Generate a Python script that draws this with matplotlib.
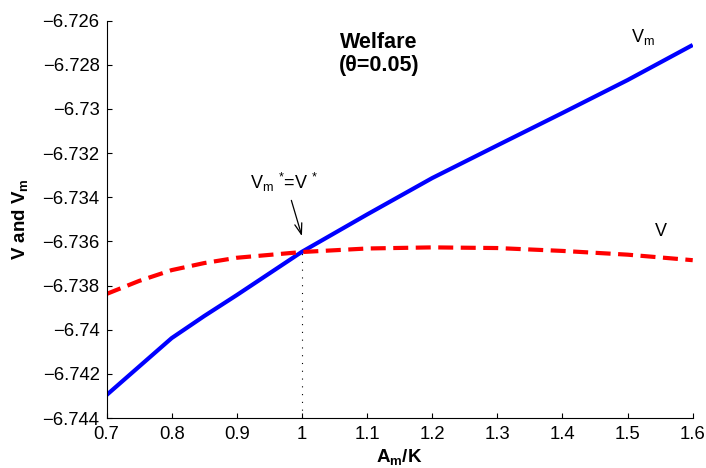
import matplotlib
matplotlib.use("Agg")
import matplotlib.pyplot as plt
from matplotlib.ticker import FuncFormatter

plt.rcParams['font.family'] = ['Liberation Sans', 'DejaVu Sans']
plt.rcParams['mathtext.fontset'] = 'custom'
plt.rcParams['mathtext.rm'] = 'Liberation Sans'
plt.rcParams['mathtext.it'] = 'Liberation Sans'
plt.rcParams['mathtext.bf'] = 'Liberation Sans:bold'

# Data
am_k_vm = [0.7, 0.8, 0.85, 0.9, 1.0, 1.1, 1.2, 1.3, 1.4, 1.5, 1.6]
v_m = [-6.74296, -6.74038, -6.73938, -6.73843, -6.73647, -6.73478, -6.73313,
       -6.73165, -6.73018, -6.72869, -6.72710]
am_k_v = [0.7, 0.75, 0.8, 0.85, 0.9, 1.0, 1.1, 1.2, 1.3, 1.4, 1.5, 1.6]
v = [-6.73838, -6.73779, -6.73730, -6.73698, -6.73674, -6.73648, -6.73632,
     -6.73627, -6.73630, -6.73643, -6.73660, -6.73685]
x_ticks = [0.7, 0.8, 0.9, 1.0, 1.1, 1.2, 1.3, 1.4, 1.5, 1.6]
y_ticks = [-6.744, -6.742, -6.740, -6.738, -6.736, -6.734, -6.732, -6.730, -6.728, -6.726]
cross_x = 1.0
cross_y = -6.73647

fig = plt.figure(figsize=(7.06, 4.68), dpi=100)
ax = fig.add_axes([0.1509, 0.1068, 0.9812 - 0.1509, 0.9558 - 0.1068])

ax.plot(am_k_vm, v_m, color=(0, 0, 1), lw=3.0, solid_capstyle='butt')
ax.plot(am_k_v, v, color=(1, 0, 0), lw=3.0, linestyle=(0, (3.6, 1.8)))
ax.plot([cross_x, cross_x], [y_ticks[0], cross_y], color='black', lw=0.8,
        linestyle=(0, (1, 6)))

ax.set_xlim(0.7, 1.6)
ax.set_ylim(-6.744, -6.726)
ax.set_xticks(x_ticks)
ax.set_yticks(y_ticks)

def fmt(val, pos):
    s = ('%g' % round(val, 6))
    return s.replace('-', '\u2212')

ax.xaxis.set_major_formatter(FuncFormatter(fmt))
ax.yaxis.set_major_formatter(FuncFormatter(fmt))
ax.tick_params(direction='in', length=3.5, width=0.8, labelsize=13.3)
ax.tick_params(axis='y', pad=5)
ax.tick_params(axis='x', pad=6)

for side in ['top', 'right']:
    ax.spines[side].set_visible(False)
for side in ['left', 'bottom']:
    ax.spines[side].set_linewidth(0.8)

ax.set_xlabel(r'$\mathbf{A_m}$/K', fontsize=13.5, fontweight='bold', labelpad=2.5)
ax.set_ylabel(r'V and $\mathbf{V_m}$', fontsize=13.5, fontweight='bold', labelpad=9)

ax.text(1.118, -6.72697, 'Welfare', ha='center', va='center',
        fontsize=15.5, fontweight='bold')
ax.text(1.118, -6.72805, '(\u03b8=0.05)', ha='center', va='center',
        fontsize=15.5, fontweight='bold')

ax.text(1.524, -6.72674, r'V$_{\mathrm{m}}$', ha='center', va='center', fontsize=13)
ax.text(1.551, -6.73557, 'V', ha='center', va='center', fontsize=13)

ax.annotate(r'V$_{\mathrm{m}}$ $^{*}$=V $^{*}$', xy=(cross_x, -6.73576),
            xytext=(0.921, -6.73331), ha='left', va='center', fontsize=13,
            arrowprops=dict(arrowstyle='->, head_length=0.6, head_width=0.2',
                            color='black', lw=0.9,
                            shrinkA=3, shrinkB=0,
                            relpos=(0.57, 0.0)))

fig.savefig('out.png', dpi=100)
